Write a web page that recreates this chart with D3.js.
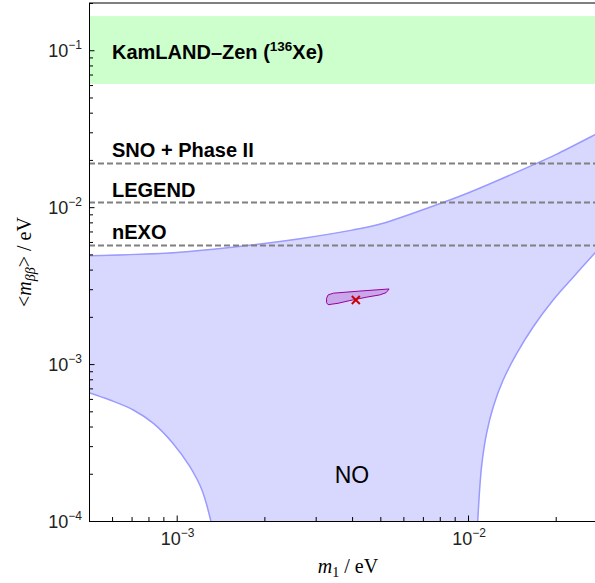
<!DOCTYPE html>
<html>
<head>
<meta charset="utf-8">
<script src="https://cdn.jsdelivr.net/npm/d3@7"></script>
<style>
  body { margin: 0; background: #fff; }
  svg { display: block; }
</style>
</head>
<body>
<div id="chart"></div>
<script>
// values (eV)
const upperM1  = [5e-4, 1e-3, 1.74e-3, 2.65e-3, 4e-3, 5e-3, 8.2e-3, 1e-2, 1.72e-2, 2e-2, 2.72e-2, 3e-2];
const upperMbb = [0.0049, 0.00515, 0.0057, 0.0063, 0.00714, 0.0078, 0.0107, 0.0123, 0.019, 0.0216, 0.0289, 0.0318];

const lowLeftM1  = [5e-4, 5.9e-4, 7.1e-4, 8.3e-4, 9.7e-4, 1.11e-3, 1.22e-3, 1.31e-3];
const lowLeftMbb = [6.57e-4, 5.9e-4, 5.1e-4, 4.2e-4, 3.13e-4, 2.22e-4, 1.58e-4, 1e-4];

const lowRightM1  = [1.08e-2, 1.113e-2, 1.158e-2, 1.221e-2, 1.32e-2, 1.47e-2, 1.675e-2, 1.96e-2, 2.3e-2, 2.72e-2, 3e-2];
const lowRightMbb = [1e-4, 2.22e-4, 3.62e-4, 5.35e-4, 7.92e-4, 1.17e-3, 1.73e-3, 2.56e-3, 3.59e-3, 5.08e-3, 6.2e-3];

// small purple contour and its best fit point
const blobM1  = [3.27e-3, 3.31e-3, 3.45e-3, 4.26e-3, 5.36e-3, 5.23e-3, 4.98e-3, 4.49e-3, 3.93e-3, 3.58e-3, 3.31e-3, 3.27e-3];
const blobMbb = [2.63e-3, 2.76e-3, 2.83e-3, 2.92e-3, 3.01e-3, 2.85e-3, 2.76e-3, 2.67e-3, 2.54e-3, 2.44e-3, 2.39e-3, 2.46e-3];
const bestFit = [4.12e-3, 2.56e-3];

// experiments
const kamlandBand = [0.061, 0.165];
const sensNames  = ["SNO + Phase II", "LEGEND", "nEXO"];
const sensValues = [0.019, 0.0107, 0.0057];

// ticks
const xMajor = [1e-3, 1e-2];
const xMajorExp = ["−3", "−2"];
const yMajor = [1e-4, 1e-3, 1e-2, 1e-1];
const yMajorExp = ["−4", "−3", "−2", "−1"];
const xMinor = [6e-4, 7e-4, 8e-4, 9e-4, 2e-3, 3e-3, 4e-3, 5e-3, 6e-3, 7e-3, 8e-3, 9e-3, 2e-2, 3e-2];
const yMinor = [2, 3, 4, 5, 6, 7, 8, 9].flatMap(k => [k * 1e-4, k * 1e-3, k * 1e-2]).concat([2e-1]);

const W = 595, H = 583;
const svg = d3.select("#chart").append("svg")
    .attr("width", W).attr("height", H);

const x = d3.scaleLog().domain([5e-4, 3e-2]).range([89, 607]);
const y = d3.scaleLog().domain([1e-4, 0.2]).range([521, 3]);

svg.append("clipPath").attr("id", "plotclip")
  .append("rect")
    .attr("x", x.range()[0]).attr("y", y.range()[1])
    .attr("width", x.range()[1] - x.range()[0])
    .attr("height", y.range()[0] - y.range()[1]);

const plot = svg.append("g").attr("clip-path", "url(#plotclip)");

// KamLAND-Zen band
plot.append("rect")
    .attr("x", x.range()[0])
    .attr("y", y(kamlandBand[1]))
    .attr("width", x.range()[1] - x.range()[0])
    .attr("height", y(kamlandBand[0]) - y(kamlandBand[1]))
    .style("fill", "#ccffcc");

// NO region
const line = d3.line().x(d => x(d[0])).y(d => y(d[1])).curve(d3.curveCatmullRom.alpha(0.5));
const upper = upperM1.map((d, i) => [d, upperMbb[i]]);
const lowLeft = lowLeftM1.map((d, i) => [d, lowLeftMbb[i]]);
const lowRight = lowRightM1.map((d, i) => [d, lowRightMbb[i]]);

const areaPath = line(upper)
    + line(lowRight.slice().reverse()).replace(/^M/, "L")
    + line(lowLeft.slice().reverse()).replace(/^M/, "L")
    + "Z";

plot.append("path").attr("d", areaPath).style("fill", "#d8d8ff").style("stroke", "none");
[upper, lowLeft, lowRight].forEach(seg => {
  plot.append("path").attr("d", line(seg))
      .style("fill", "none").style("stroke", "#9a9aff").style("stroke-width", 1.5);
});

// purple contour
plot.append("path")
    .datum(blobM1.map((d, i) => [d, blobMbb[i]]))
    .attr("d", d3.line().x(d => x(d[0])).y(d => y(d[1])).curve(d3.curveLinearClosed))
    .style("fill", "#c8a8ea")
    .style("stroke", "#990099")
    .style("stroke-width", 1);

// best fit cross
const bx = x(bestFit[0]), by = y(bestFit[1]);
plot.selectAll("line.cross")
  .data([[-4, -4, 4, 4], [-4, 4, 4, -4]])
  .join("line")
    .attr("x1", d => bx + d[0]).attr("y1", d => by + d[1])
    .attr("x2", d => bx + d[2]).attr("y2", d => by + d[3])
    .style("stroke", "#cc0000").style("stroke-width", 2);

// sensitivity lines
plot.selectAll("line.sens")
  .data(sensValues)
  .join("line")
    .attr("x1", x.range()[0]).attr("x2", x.range()[1])
    .attr("y1", d => y(d)).attr("y2", d => y(d))
    .style("stroke", "#808080").style("stroke-width", 2)
    .style("stroke-dasharray", "6,3");

const sansBold = "'Liberation Sans', Arial, Helvetica, sans-serif";

svg.selectAll("text.sens")
  .data(sensNames)
  .join("text")
    .attr("x", 112)
    .attr("y", (d, i) => y(sensValues[i]) - 6)
    .style("font-family", sansBold).style("font-weight", "bold").style("font-size", "20px")
    .text(d => d);

const kz = svg.append("text")
    .attr("x", 112).attr("y", 58.5)
    .style("font-family", sansBold).style("font-weight", "bold").style("font-size", "20px");
kz.append("tspan").text("KamLAND–Zen (");
kz.append("tspan").attr("dy", -8).style("font-size", "13.5px").text("136");
kz.append("tspan").attr("dy", 8).text("Xe)");

svg.append("text")
    .attr("x", 352).attr("y", 483)
    .attr("text-anchor", "middle")
    .style("font-family", sansBold).style("font-size", "23px")
    .text("NO");

// axes
const xAxisMajor = d3.axisBottom(x).tickValues(xMajor).tickFormat("").tickSizeInner(-5.5).tickSizeOuter(0);
const xAxisMinor = d3.axisBottom(x).tickValues(xMinor).tickFormat("").tickSizeInner(-4).tickSizeOuter(0);
const yAxisMajor = d3.axisLeft(y).tickValues(yMajor).tickFormat("").tickSizeInner(-5.5).tickSizeOuter(0);
const yAxisMinor = d3.axisLeft(y).tickValues(yMinor).tickFormat("").tickSizeInner(-4).tickSizeOuter(0);

svg.append("g").attr("transform", "translate(0,521)").call(xAxisMajor);
svg.append("g").attr("transform", "translate(0,521)").call(xAxisMinor).select(".domain").remove();
svg.append("g").attr("transform", "translate(89,0)").call(yAxisMajor);
svg.append("g").attr("transform", "translate(89,0)").call(yAxisMinor).select(".domain").remove();
svg.selectAll(".domain, .tick line").style("stroke", "#000").style("stroke-width", 1);

// top frame
svg.append("line")
    .attr("x1", x.range()[0]).attr("x2", x.range()[1])
    .attr("y1", y.range()[1]).attr("y2", y.range()[1])
    .style("stroke", "#000").style("stroke-width", 1);

// tick labels
const sans = "'Liberation Sans', Arial, Helvetica, sans-serif";
xMajor.forEach((v, i) => {
  const t = svg.append("text")
      .attr("x", x(v) + 1).attr("y", 545)
      .attr("text-anchor", "middle")
      .style("font-family", sans).style("font-size", "18px").style("fill", "#222");
  t.append("tspan").text("10");
  t.append("tspan").attr("dy", -8).style("font-size", "12px").text(xMajorExp[i]);
});
yMajor.forEach((v, i) => {
  const t = svg.append("text")
      .attr("x", 82).attr("y", y(v) + 7)
      .attr("text-anchor", "end")
      .style("font-family", sans).style("font-size", "18px").style("fill", "#222");
  t.append("tspan").text("10");
  t.append("tspan").attr("dy", -8).style("font-size", "12px").text(yMajorExp[i]);
});

// axis titles
const serif = "'Liberation Serif', 'Times New Roman', serif";
const xt = svg.append("text")
    .attr("x", 348).attr("y", 573)
    .attr("text-anchor", "middle")
    .style("font-family", serif).style("font-size", "20px");
xt.append("tspan").style("font-style", "italic").text("m");
xt.append("tspan").attr("dy", 4).style("font-size", "14px").text("1");
xt.append("tspan").attr("dy", -4).text(" / eV");

const yt = svg.append("text")
    .attr("transform", "translate(31,262) rotate(-90)")
    .attr("text-anchor", "middle")
    .style("font-family", serif).style("font-size", "20px");
yt.append("tspan").text("<");
yt.append("tspan").style("font-style", "italic").text("m");
yt.append("tspan").attr("dy", 4).style("font-size", "14px").style("font-style", "italic").text("ββ");
yt.append("tspan").attr("dy", -4).text("> / eV");
</script>
</body>
</html>
